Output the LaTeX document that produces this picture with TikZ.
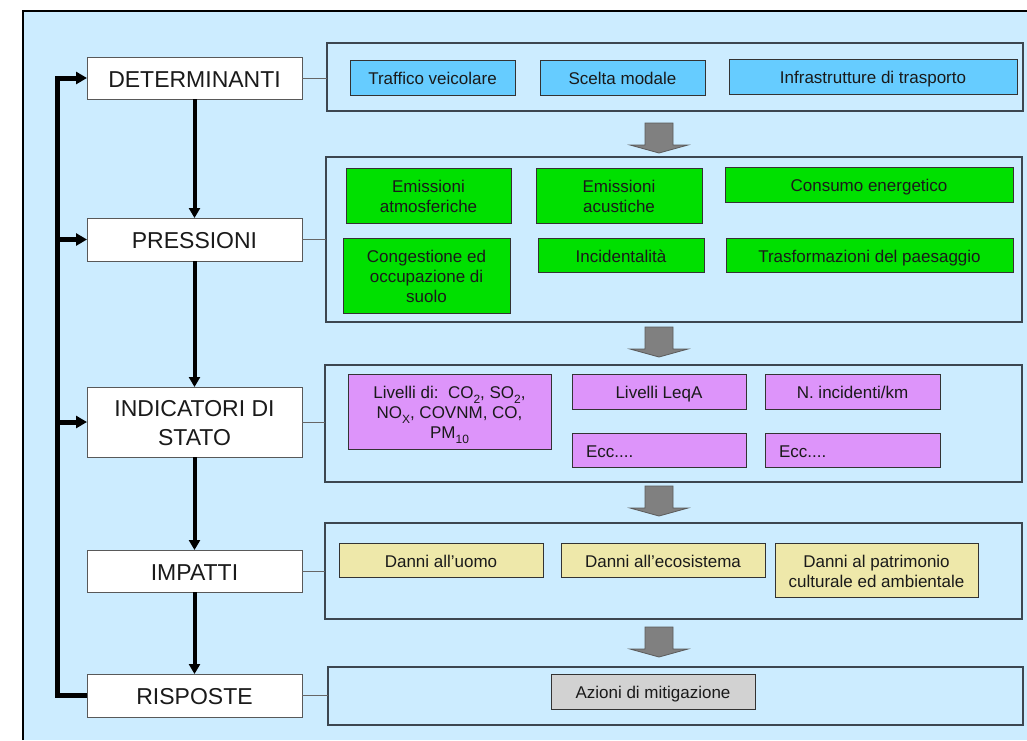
\documentclass[tikz,border=0pt]{standalone}
\usepackage{fontspec}
\setmainfont{Liberation Sans}
\usetikzlibrary{arrows.meta,calc}
\definecolor{bgblue}{HTML}{CCECFF}
\definecolor{dblue}{HTML}{66CCFF}
\definecolor{grn}{HTML}{00E000}
\definecolor{purp}{HTML}{DD94FA}
\definecolor{yel}{HTML}{EEE8AA}
\definecolor{gbox}{HTML}{D2D2D2}
\definecolor{garrow}{HTML}{808080}
\definecolor{garrowd}{HTML}{5A5A5A}
\definecolor{txt}{HTML}{1A1A1A}
\definecolor{pline}{HTML}{3C4650}
% item boxes (17pt text)
\newcommand\its{\rule{0pt}{18.8pt}}
\newcommand\ibs{\rule[-4pt]{0pt}{4pt}}
% main boxes (23pt text)
\newcommand\mts{\rule{0pt}{23.6pt}}
\newcommand\mbs{\rule[-5pt]{0pt}{5pt}}
\newcommand\chemsub[1]{\raisebox{-4.5pt}{\fontsize{12}{12}\selectfont #1}}
\newcommand\bx[7]{\node[#2, minimum width={#5-#3}, minimum height={#6-#4}] (#1) at ({(#3+#5)/2},{(#4+#6)/2}) {\its#7\ibs};}
\newcommand\mbx[7]{\node[#2, minimum width={#5-#3}, minimum height={#6-#4}] (#1) at ({(#3+#5)/2},{(#4+#6)/2}) {\mts#7\mbs};}
\newcommand\garrow[2]{\filldraw[fill=garrow, draw=garrowd, line width=0.8pt] (#1-14,#2) -- (#1+14,#2) -- (#1+14,#2+22) -- (#1+29,#2+22) -- (#1,#2+30) -- (#1-29,#2+22) -- (#1-14,#2+22) -- cycle;}
\tikzset{
  every node/.style={text=txt, inner sep=0pt, outer sep=0pt},
  mainbox/.style={draw=black!65, fill=white, line width=1pt, align=center, font=\fontsize{23}{29}\selectfont},
  panel/.style={draw=pline, fill=bgblue, line width=1.4pt},
  item/.style={draw=black!80, line width=1pt, align=center, font=\fontsize{17}{20}\selectfont},
  bluebox/.style={item, fill=dblue},
  greenbox/.style={item, fill=grn},
  purpbox/.style={item, fill=purp},
  yelbox/.style={item, fill=yel},
  graybox/.style={item, fill=gbox},
  leftitem/.style={item, align=left, text width=#1, inner xsep=14pt},
  flow/.style={line width=4pt, -{Triangle[length=10pt,width=11pt]}},
  fb/.style={line width=5pt, line join=miter},
  fbarrow/.style={fb, -{Triangle[length=11pt,width=12pt]}},
  link/.style={draw=black!60, line width=0.8pt}
}
\begin{document}
\begin{tikzpicture}[x=1pt,y=-1pt]
\useasboundingbox (0,0) rectangle (1027,740);
\fill[white] (0,0) rectangle (1027,740);
\fill[bgblue] (23,11) rectangle (1027,740);
\draw[black, line width=2pt] (23,740) -- (23,11) -- (1027,11);

% panels
\node[panel, minimum width=696pt, minimum height=68pt] (p1) at (675,77) {};
\node[panel, minimum width=696pt, minimum height=165pt] (p2) at (674,239.5) {};
\node[panel, minimum width=697pt, minimum height=117pt] (p3) at (673.5,423.5) {};
\node[panel, minimum width=697pt, minimum height=96pt] (p4) at (673.5,571) {};
\node[panel, minimum width=695pt, minimum height=58pt] (p5) at (675.5,696) {};

% left column
\mbx{det}{mainbox}{87}{57}{302}{99}{DETERMINANTI}
\mbx{pre}{mainbox}{87}{218}{302}{261}{PRESSIONI}
\mbx{ind}{mainbox}{87}{387}{302}{457}{INDICATORI DI\\STATO}
\mbx{imp}{mainbox}{87}{550}{302}{592}{IMPATTI}
\mbx{ris}{mainbox}{87}{674}{302}{717}{RISPOSTE}

% links to panels
\draw[link] (det.east) -- (det.east -| p1.west);
\draw[link] (pre.east) -- (pre.east -| p2.west);
\draw[link] (ind.east) -- (ind.east -| p3.west);
\draw[link] (imp.east) -- (imp.east -| p4.west);
\draw[link] (ris.east) -- (ris.east -| p5.west);

% vertical flow
\draw[flow] (det.south) -- (pre.north);
\draw[flow] (pre.south) -- (ind.north);
\draw[flow] (ind.south) -- (imp.north);
\draw[flow] (imp.south) -- (ris.north);

% feedback
\coordinate (fbx) at (57.5,0);
\draw[fbarrow] (ris.west) -- (ris.west -| fbx) -- (det.west -| fbx) -- (det.west);
\draw[fbarrow] (pre.west -| fbx) -- (pre.west);
\draw[fbarrow] (ind.west -| fbx) -- (ind.west);

% panel 1
\bx{tv}{bluebox}{350}{60}{515}{95}{Traffico veicolare}
\bx{sm}{bluebox}{540}{60}{705}{95}{Scelta modale}
\bx{inf}{bluebox}{729}{59}{1017}{94}{Infrastrutture di trasporto}

% panel 2
\bx{ea}{greenbox}{346}{168}{511}{223}{Emissioni\\atmosferiche}
\bx{eac}{greenbox}{536}{168}{702}{223}{Emissioni\\acustiche}
\bx{ce}{greenbox}{725}{167}{1013}{202}{Consumo energetico}
\bx{cong}{greenbox}{343}{238}{510}{313}{Congestione ed\\occupazione di\\suolo}
\bx{inc}{greenbox}{538}{238}{704}{272}{Incidentalità}
\bx{tra}{greenbox}{726}{238}{1013}{272}{Trasformazioni del paesaggio}

% panel 3
\bx{liv}{purpbox}{348}{374}{551}{449}{Livelli di:\ \ CO\chemsub{2}, SO\chemsub{2},\\NO\chemsub{X}, COVNM, CO,\\PM\chemsub{10}}
\bx{leq}{purpbox}{572}{374}{746}{409}{Livelli LeqA}
\bx{ninc}{purpbox}{765}{374}{940}{409}{N. incidenti/km}
\node[purpbox, leftitem=146pt, minimum height=34pt] (ecca) at (659,450) {\its Ecc....\ibs};
\node[purpbox, leftitem=147pt, minimum height=34pt] (eccb) at (852.5,450) {\its Ecc....\ibs};

% panel 4
\bx{du}{yelbox}{339}{543}{543}{577}{Danni all’uomo}
\bx{de}{yelbox}{561}{543}{765}{577}{Danni all’ecosistema}
\bx{dp}{yelbox}{775}{543}{978}{597}{Danni al patrimonio\\culturale ed ambientale}

% panel 5
\bx{az}{graybox}{551}{674}{755}{709}{Azioni di mitigazione}

% block arrows between panels
\garrow{659}{123}
\garrow{659}{327}
\garrow{659}{486}
\garrow{659}{627}
\end{tikzpicture}
\end{document}
